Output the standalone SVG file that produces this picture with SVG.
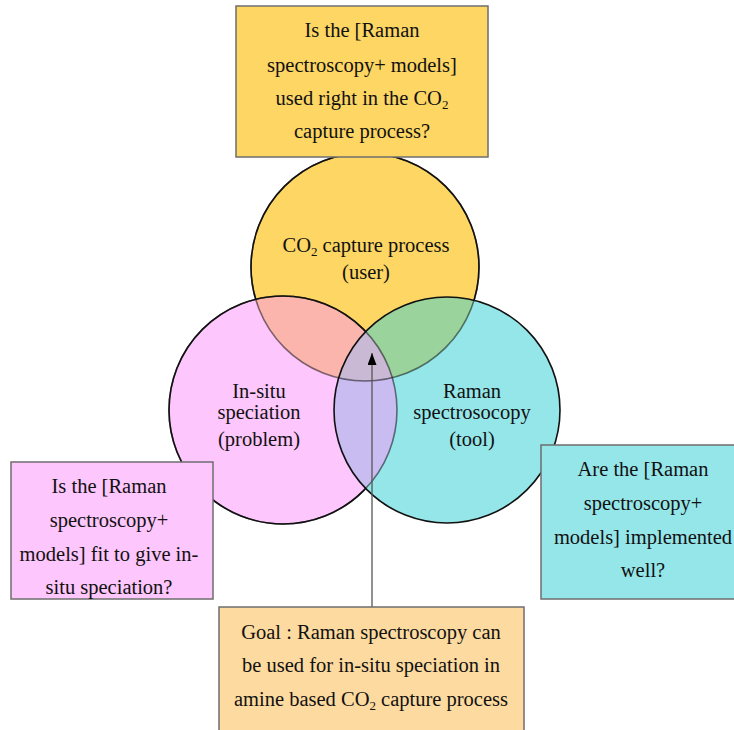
<svg xmlns="http://www.w3.org/2000/svg" width="734" height="730" viewBox="0 0 734 730">
  <style>
    text { font-family: "Liberation Serif", "Times New Roman", serif; font-size: 20.5px; fill: #111; text-anchor: middle; }
    .sub { font-size: 13px; }
    .box { stroke: #6e6e6e; stroke-width: 1.5; }
    .ring { fill: none; stroke: #111; stroke-width: 1.6; }
    .ring-dim { fill: none; stroke: #000; stroke-opacity: 0.5; stroke-width: 1.6; }
    .link { stroke: #555; stroke-width: 1.3; fill: none; }
  </style>
  <defs>
    <circle id="cUser" cx="365" cy="267" r="114"/>
    <circle id="cProblem" cx="283" cy="410" r="114"/>
    <circle id="cTool" cx="447" cy="410" r="113"/>
    <clipPath id="inUser"><use href="#cUser"/></clipPath>
    <clipPath id="inProblem"><use href="#cProblem"/></clipPath>
    <!-- masks keep a ring fully dark only where no later circle lies over it -->
    <mask id="outsideProblemTool" maskUnits="userSpaceOnUse" x="0" y="0" width="734" height="730">
      <rect width="734" height="730" fill="#fff"/>
      <use href="#cProblem" fill="#000"/>
      <use href="#cTool" fill="#000"/>
    </mask>
    <mask id="outsideTool" maskUnits="userSpaceOnUse" x="0" y="0" width="734" height="730">
      <rect width="734" height="730" fill="#fff"/>
      <use href="#cTool" fill="#000"/>
    </mask>
    <marker id="head" viewBox="0 0 12 9" refX="12" refY="4.5" markerWidth="12" markerHeight="9" markerUnits="userSpaceOnUse" orient="auto">
      <path d="M0,0 L12,4.5 L0,9 Z" fill="#000"/>
    </marker>
  </defs>

  <rect width="734" height="730" fill="#fff"/>

  <!-- Venn fills -->
  <g id="venn-fills">
    <use href="#cUser" fill="#FDD663"/>
    <use href="#cProblem" fill="#FDC6FC"/>
    <use href="#cProblem" fill="#FBB5AD" clip-path="url(#inUser)"/>
    <use href="#cTool" fill="#95E6E9"/>
    <use href="#cTool" fill="#9AD39B" clip-path="url(#inUser)"/>
    <use href="#cTool" fill="#C8BCF1" clip-path="url(#inProblem)"/>
    <g clip-path="url(#inProblem)">
      <use href="#cTool" fill="#CAB9D5" clip-path="url(#inUser)"/>
    </g>
  </g>

  <!-- Venn outlines -->
  <g id="venn-outlines">
    <use href="#cUser" class="ring-dim"/>
    <use href="#cUser" class="ring" mask="url(#outsideProblemTool)"/>
    <use href="#cProblem" class="ring-dim"/>
    <use href="#cProblem" class="ring" mask="url(#outsideTool)"/>
    <use href="#cTool" class="ring"/>
  </g>

  <g id="user">
    <text x="366" y="252">CO<tspan class="sub" dy="4">2</tspan><tspan dy="-4"> capture process</tspan></text>
    <text x="366" y="279">(user)</text>
  </g>
  <g id="problem">
    <text x="259" y="398">In-situ</text>
    <text x="259" y="419">speciation</text>
    <text x="259" y="446">(problem)</text>
  </g>
  <g id="tool">
    <text x="472" y="398">Raman</text>
    <text x="472" y="419">spectrosocopy</text>
    <text x="472" y="446">(tool)</text>
  </g>

  <!-- connector -->
  <g id="connectors">
    <line class="link" x1="372" y1="607" x2="372" y2="353" marker-end="url(#head)"/>
  </g>

  <g id="q-user">
    <rect class="box" x="236" y="6" width="252" height="151" fill="#FDD663"/>
    <text x="362" y="37">Is the [Raman</text>
    <text x="362" y="72">spectroscopy+ models]</text>
    <text x="362" y="105">used right in the CO<tspan class="sub" dy="4">2</tspan></text>
    <text x="362" y="138">capture process?</text>
  </g>

  <g id="q-problem">
    <rect class="box" x="11" y="462" width="202" height="137" fill="#FDC6FC"/>
    <text x="109" y="493">Is the [Raman</text>
    <text x="109" y="527">spectroscopy+</text>
    <text x="109" y="561">models] fit to give in-</text>
    <text x="109" y="594">situ speciation?</text>
  </g>

  <g id="q-tool">
    <rect class="box" x="541" y="445" width="202" height="154" fill="#95E6E9"/>
    <text x="643" y="476">Are the [Raman</text>
    <text x="643" y="510">spectroscopy+</text>
    <text x="643" y="544">models] implemented</text>
    <text x="643" y="577">well?</text>
  </g>

  <g id="goal">
    <rect class="box" x="219" y="607" width="305" height="130" fill="#FDDA9F"/>
    <text x="371" y="639">Goal : Raman spectroscopy can</text>
    <text x="371" y="672">be used for in-situ speciation in</text>
    <text x="371" y="706">amine based CO<tspan class="sub" dy="4">2</tspan><tspan dy="-4"> capture process</tspan></text>
  </g>
</svg>
